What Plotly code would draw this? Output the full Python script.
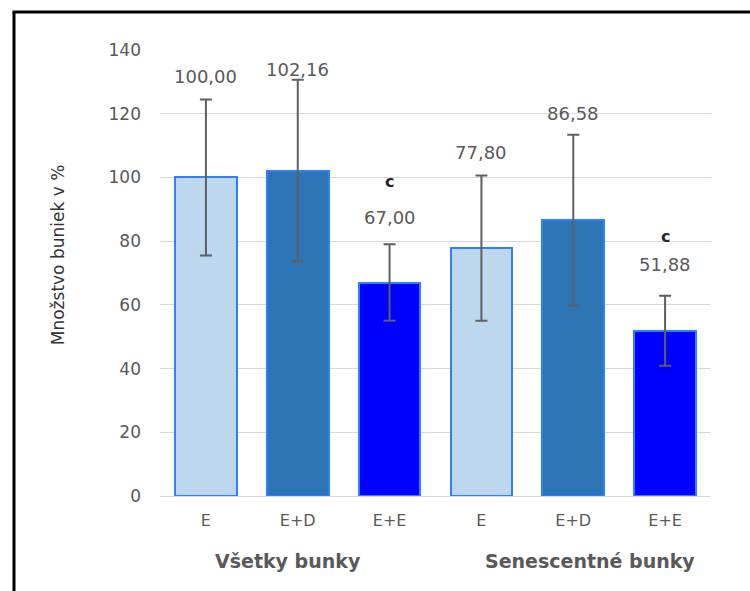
import plotly.graph_objects as go

# ---- data ----
groups = ["Všetky bunky", "Senescentné bunky"]
treatments = ["E", "E+D", "E+E"]
values_all = [100.00, 102.16, 67.00]
values_sen = [77.80, 86.58, 51.88]
err_all = [24.5, 28.5, 12.0]
err_sen = [22.8, 26.8, 11.0]
sig_all = ["", "", "c"]
sig_sen = ["", "", "c"]
y_ticks = [0, 20, 40, 60, 80, 100, 120, 140]

# ---- derived ----
values = values_all + values_sen
errors = err_all + err_sen
sig = sig_all + sig_sen
tick_text = treatments + treatments
xpos = list(range(len(values)))
colors = ["#BDD7EE", "#2E75B6", "#0000FF"] * 2

FONT = "DejaVu Sans"
GRAY = "#595959"

fig = go.Figure()
fig.add_trace(go.Bar(
    x=xpos, y=values, width=0.67,
    marker=dict(color=colors, line=dict(color="#2F80FF", width=2)),
    error_y=dict(type="data", array=errors, visible=True,
                 color="#5F5F5F", thickness=2, width=6),
    hoverinfo="skip",
))

# value labels above error bars
label_shift = [23, 10, 27, 23, 21, 31]
sig_shift = [0, 0, 63, 0, 0, 59]
for i, (v, e) in enumerate(zip(values, errors)):
    fig.add_annotation(x=i, y=v + e, xref="x", yref="y",
                       text=f"{v:.2f}".replace(".", ","),
                       showarrow=False, yanchor="middle", yshift=label_shift[i],
                       font=dict(family=FONT, size=18, color=GRAY))
    if sig[i]:
        fig.add_annotation(x=i, y=v + e, xref="x", yref="y", text=f"<b>{sig[i]}</b>",
                           showarrow=False, yanchor="middle", yshift=sig_shift[i],
                           font=dict(family=FONT, size=16, color="#262626"))

# group labels
group_centers = [1, 4]
group_xshift = [-10, 17]
for g, cx, xs in zip(groups, group_centers, group_xshift):
    fig.add_annotation(x=cx, y=-0.146, xref="x", yref="paper", text=f"<b>{g}</b>",
                       showarrow=False, yanchor="middle", xshift=xs,
                       font=dict(family=FONT, size=19, color=GRAY))

# y-axis title
fig.add_annotation(x=-0.185, y=0.54, xref="paper", yref="paper",
                   text="Množstvo buniek v %", textangle=-90, showarrow=False,
                   xanchor="center", yanchor="middle",
                   font=dict(family=FONT, size=17, color="#333333"))

# outer frame (pixel-based -> paper coords)
L, R, T, B = 160, 711, 50, 496
def px(xp): return (xp - L) / (R - L)
def py(yp): return (B - yp) / (B - T)
fig.add_shape(type="line", xref="paper", yref="paper",
              x0=px(14), x1=px(14), y0=py(12), y1=py(600),
              line=dict(color="black", width=3))
fig.add_shape(type="line", xref="paper", yref="paper",
              x0=px(12.5), x1=px(760), y0=py(12), y1=py(12),
              line=dict(color="black", width=3))

fig.update_layout(
    width=750, height=591,
    margin=dict(l=L, r=750 - R, t=T, b=591 - B),
    paper_bgcolor="white", plot_bgcolor="white",
    showlegend=False, bargap=0,
    xaxis=dict(range=[-0.5, 5.5], tickvals=xpos, ticktext=tick_text,
               showgrid=False, zeroline=False, showline=False, ticks="",
               ticklabelstandoff=13,
               tickfont=dict(family=FONT, size=16, color=GRAY)),
    yaxis=dict(range=[0, 140], tickvals=y_ticks, showgrid=True,
               gridcolor="#D9D9D9", gridwidth=1, zeroline=True,
               zerolinecolor="#D9D9D9", zerolinewidth=1, showline=False,
               ticks="", ticklabelstandoff=18,
               tickfont=dict(family=FONT, size=17, color=GRAY)),
)

fig.write_html("out.html")
